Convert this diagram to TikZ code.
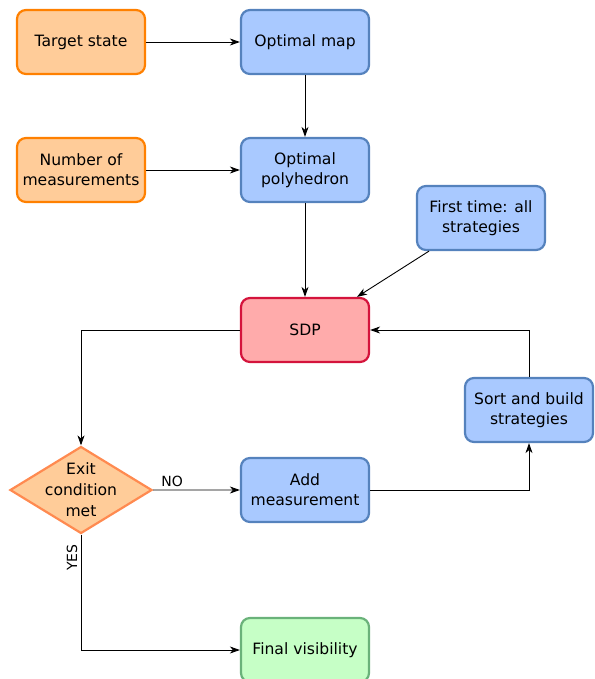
\documentclass[tikz,border=0pt]{standalone}
\usepackage{fontspec}
\setmainfont{DejaVu Sans}
\usetikzlibrary{positioning, shapes.geometric, arrows.meta}

\definecolor{inputfill}{HTML}{FFCC99}
\definecolor{inputline}{HTML}{FF8000}
\definecolor{procfill}{HTML}{A9C9FF}
\definecolor{procline}{HTML}{5582BD}
\definecolor{sdpfill}{HTML}{FFABAB}
\definecolor{sdpline}{HTML}{D4143C}
\definecolor{endfill}{HTML}{C6FFC6}
\definecolor{endline}{HTML}{6AB27A}
\definecolor{testline}{HTML}{FF8A50}

\tikzset{
  box/.style={rectangle, rounded corners=9pt, minimum width=128pt, minimum height=64pt,
    line width=2.2pt, align=center, font=\fontsize{15.6}{20}\selectfont},
  input/.style={box, draw=inputline, fill=inputfill},
  proc/.style={box, draw=procline, fill=procfill},
  sdpbox/.style={box, draw=sdpline, fill=sdpfill},
  finalbox/.style={box, draw=endline, fill=endfill},
  test/.style={diamond, draw=testline, fill=inputfill, line width=2.2pt,
    minimum width=142pt, minimum height=87pt, inner sep=0pt},
  flow/.style={-{Stealth[length=10pt, width=7pt, inset=3pt]}, line width=0.9pt},
  edgelabel/.style={font=\fontsize{14}{16}\selectfont}
}

\begin{document}
\begin{tikzpicture}

    \useasboundingbox (0,0) rectangle (594pt,-679pt);

    % Inputs and first steps
    \node[input] (target) at (81pt,-42pt) {Target state};
    \node[proc, right=93.8pt of target] (map) {Optimal map};
    \node[input, below=61.8pt of target] (nmeas) {Number of\\measurements};
    \node[proc, below=61.8pt of map] (poly) {Optimal\\polyhedron};

    % Main loop
    \node[sdpbox, below=93.8pt of poly] (sdp) {SDP};
    \node[proc] (first) at (481pt,-218pt) {First time: all\\strategies};
    \node[test, label={[align=center, font=\fontsize{15.6}{21}\selectfont]center:Exit\\condition\\met}]
        (exit) at (81pt,-490pt) {};
    \node[proc, below=93.8pt of sdp] (add) {Add\\measurement};
    \node[proc] (sort) at (529pt,-410pt) {Sort and build\\strategies};
    \node[finalbox, below=93.8pt of add] (final) {Final visibility};

    % Connectors
    \draw[flow] (target) -- (map);
    \draw[flow] (map) -- (poly);
    \draw[flow] (nmeas) -- (poly);
    \draw[flow] (poly) -- (sdp);
    \draw[flow] (first) -- (sdp);
    \draw[flow] (sdp.west) -| (exit.north);
    \draw[flow] (exit.east) -- node[edgelabel, pos=0.22, above] {NO} (add.west);
    \draw[flow] (add.east) -| (sort.south);
    \draw[flow] (sort.north) |- (sdp.east);
    \draw[flow] (exit.south) |- node[edgelabel, pos=0.1, rotate=90, anchor=south] {YES} (final.west);

\end{tikzpicture}
\end{document}
